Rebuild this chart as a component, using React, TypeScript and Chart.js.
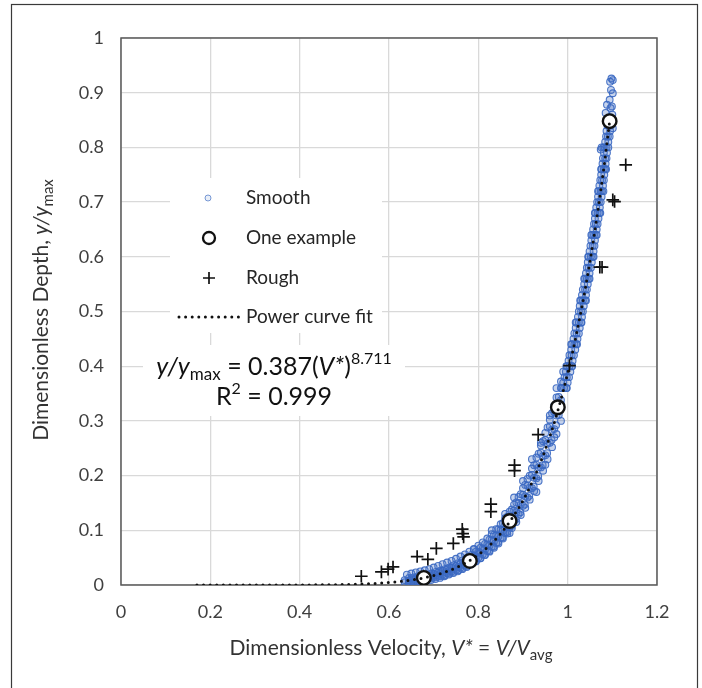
import React, { useEffect, useRef } from "react";
import { Chart, registerables } from "chart.js";
Chart.register(...registerables);

// ---------- data ----------
const xTickValues = [0, 0.2, 0.4, 0.6, 0.8, 1, 1.2];
const yTickValues = [0, 0.1, 0.2, 0.3, 0.4, 0.5, 0.6, 0.7, 0.8, 0.9, 1];

const legendLabels = ["Smooth", "One example", "Rough", "Power curve fit"];

const exampleV = [0.678, 0.781, 0.87, 0.978, 1.094];
const exampleY = [0.013, 0.044, 0.117, 0.325, 0.848];

const roughV = [0.538, 0.583, 0.598, 0.609, 0.663, 0.687, 0.706, 0.744, 0.764, 0.767, 0.765, 0.828, 0.828, 0.881, 0.881, 0.934, 1.004, 1.072, 1.077, 1.101, 1.105, 1.13];
const roughY = [0.016, 0.024, 0.029, 0.033, 0.052, 0.047, 0.067, 0.076, 0.102, 0.088, 0.094, 0.148, 0.134, 0.219, 0.209, 0.275, 0.401, 0.581, 0.581, 0.704, 0.701, 0.768];

const fitV = [0.17, 0.3, 0.4, 0.5, 0.55, 0.6, 0.65, 0.7, 0.75, 0.8, 0.85, 0.9, 0.925, 0.95, 0.975, 1.0, 1.02, 1.04, 1.06, 1.08, 1.094];
const fitY = [0.0, 0.0, 0.0001, 0.0009, 0.0021, 0.0045, 0.0091, 0.0173, 0.0316, 0.0554, 0.0939, 0.1546, 0.1963, 0.2476, 0.3104, 0.387, 0.4599, 0.5446, 0.6429, 0.7566, 0.848];

const smoothPoints: [number, number][] = [
  [0.635, 0.005], [0.635, 0.009],
  [0.645, 0.005], [0.645, 0.008], [0.645, 0.013],
  [0.655, 0.006], [0.655, 0.01], [0.655, 0.014],
  [0.665, 0.007], [0.665, 0.011], [0.665, 0.016],
  [0.675, 0.009], [0.675, 0.013], [0.675, 0.017],
  [0.685, 0.01], [0.685, 0.014], [0.685, 0.019],
  [0.695, 0.012], [0.695, 0.016], [0.695, 0.021],
  [0.705, 0.014], [0.705, 0.018], [0.705, 0.024],
  [0.715, 0.016], [0.715, 0.021], [0.715, 0.026],
  [0.725, 0.018], [0.725, 0.023], [0.725, 0.029],
  [0.735, 0.021], [0.735, 0.026], [0.735, 0.032],
  [0.745, 0.024], [0.745, 0.03], [0.745, 0.036],
  [0.755, 0.027], [0.755, 0.033], [0.755, 0.04],
  [0.765, 0.031], [0.765, 0.037], [0.765, 0.045],
  [0.775, 0.035], [0.775, 0.042], [0.775, 0.05],
  [0.785, 0.039], [0.785, 0.047], [0.785, 0.055],
  [0.795, 0.044], [0.795, 0.052], [0.795, 0.061],
  [0.805, 0.049], [0.805, 0.058], [0.805, 0.068],
  [0.815, 0.055], [0.815, 0.065], [0.815, 0.075],
  [0.825, 0.061], [0.825, 0.072], [0.825, 0.083],
  [0.835, 0.068], [0.835, 0.08], [0.835, 0.092],
  [0.845, 0.076], [0.845, 0.089], [0.845, 0.102],
  [0.855, 0.085], [0.855, 0.099], [0.855, 0.113],
  [0.865, 0.094], [0.865, 0.109], [0.865, 0.125],
  [0.875, 0.104], [0.875, 0.121], [0.875, 0.138],
  [0.885, 0.115], [0.885, 0.133], [0.885, 0.151],
  [0.895, 0.128], [0.895, 0.147], [0.895, 0.166],
  [0.905, 0.141], [0.905, 0.162], [0.905, 0.183],
  [0.915, 0.156], [0.915, 0.178], [0.915, 0.2],
  [0.925, 0.172], [0.925, 0.196], [0.925, 0.219],
  [0.935, 0.19], [0.935, 0.215], [0.935, 0.24],
  [0.945, 0.209], [0.945, 0.236], [0.945, 0.263],
  [0.955, 0.23], [0.955, 0.259], [0.955, 0.288],
  [0.965, 0.252], [0.965, 0.284], [0.965, 0.314],
  [0.975, 0.276], [0.975, 0.31], [0.975, 0.343],
  [0.985, 0.3], [0.985, 0.338], [0.985, 0.372],
  [0.65, 0.007], [0.65, 0.012], [0.66, 0.008], [0.66, 0.013],
  [0.67, 0.01], [0.67, 0.015], [0.68, 0.011], [0.68, 0.016],
  [0.69, 0.013], [0.69, 0.018], [0.7, 0.015], [0.7, 0.02],
  [0.71, 0.017], [0.71, 0.023], [0.72, 0.019], [0.72, 0.026],
  [0.73, 0.022], [0.73, 0.029], [0.74, 0.025], [0.74, 0.032],
  [0.75, 0.028], [0.75, 0.035], [0.76, 0.032], [0.76, 0.04],
  [0.77, 0.036], [0.77, 0.044], [0.78, 0.04], [0.78, 0.049],
  [0.79, 0.045], [0.79, 0.054], [0.8, 0.05], [0.8, 0.06],
  [0.81, 0.056], [0.81, 0.067], [0.82, 0.062], [0.82, 0.074],
  [0.83, 0.07], [0.83, 0.083], [0.84, 0.077], [0.84, 0.091],
  [0.85, 0.086], [0.85, 0.101], [0.86, 0.095], [0.86, 0.111],
  [0.87, 0.106], [0.87, 0.123], [0.88, 0.117], [0.88, 0.136],
  [0.89, 0.13], [0.89, 0.15], [0.9, 0.145], [0.9, 0.165],
  [0.91, 0.16], [0.91, 0.182], [0.92, 0.177], [0.92, 0.201],
  [0.93, 0.195], [0.93, 0.22], [0.94, 0.215], [0.94, 0.242],
  [0.95, 0.237], [0.95, 0.265], [0.96, 0.26], [0.96, 0.29],
  [0.97, 0.285], [0.97, 0.316], [0.98, 0.311], [0.98, 0.344],
  [0.64, 0.019], [0.644, 0.003], [0.65, 0.021], [0.654, 0.004],
  [0.66, 0.023], [0.664, 0.005], [0.67, 0.025], [0.674, 0.006],
  [0.68, 0.027], [0.684, 0.008], [0.69, 0.029], [0.694, 0.009],
  [0.7, 0.032], [0.704, 0.011], [0.71, 0.035], [0.714, 0.013],
  [0.72, 0.038], [0.724, 0.016], [0.73, 0.041], [0.734, 0.019],
  [0.74, 0.044], [0.744, 0.022], [0.75, 0.048], [0.754, 0.025],
  [0.76, 0.052], [0.764, 0.029], [0.77, 0.056], [0.774, 0.033],
  [0.78, 0.061], [0.784, 0.038], [0.79, 0.066], [0.794, 0.043],
  [0.8, 0.072], [0.804, 0.049], [0.81, 0.078], [0.814, 0.055],
  [0.82, 0.085], [0.824, 0.062], [0.83, 0.093], [0.834, 0.07],
  [0.84, 0.102], [0.844, 0.078], [0.85, 0.111], [0.854, 0.087],
  [0.86, 0.122], [0.864, 0.097], [0.87, 0.134], [0.874, 0.108],
  [0.88, 0.147], [0.884, 0.12], [0.89, 0.161], [0.894, 0.133],
  [0.9, 0.177], [0.904, 0.147], [0.91, 0.194], [0.914, 0.163],
  [0.92, 0.213], [0.924, 0.18], [0.93, 0.233], [0.934, 0.199],
  [0.94, 0.255], [0.944, 0.219], [0.95, 0.278], [0.954, 0.241],
  [0.96, 0.302], [0.964, 0.265], [0.97, 0.328], [0.974, 0.292],
  [0.986, 0.36], [0.992, 0.36], [0.997, 0.36],
  [0.993, 0.38], [0.998, 0.38], [1.003, 0.38],
  [0.999, 0.4], [1.004, 0.4], [1.009, 0.4],
  [1.004, 0.42], [1.009, 0.42], [1.014, 0.42],
  [1.01, 0.44], [1.015, 0.44], [1.019, 0.44],
  [1.015, 0.46], [1.02, 0.46], [1.025, 0.46],
  [1.02, 0.48], [1.025, 0.48], [1.03, 0.48],
  [1.025, 0.5], [1.03, 0.5], [1.034, 0.5],
  [1.03, 0.52], [1.034, 0.52], [1.039, 0.52],
  [1.034, 0.54], [1.039, 0.54], [1.043, 0.54],
  [1.039, 0.56], [1.043, 0.56], [1.047, 0.56],
  [1.043, 0.58], [1.047, 0.58], [1.052, 0.58],
  [1.047, 0.6], [1.052, 0.6], [1.056, 0.6],
  [1.051, 0.62], [1.056, 0.62], [1.06, 0.62],
  [1.055, 0.64], [1.059, 0.64], [1.063, 0.64],
  [1.059, 0.66], [1.063, 0.66], [1.067, 0.66],
  [1.062, 0.68], [1.067, 0.68], [1.071, 0.68],
  [1.066, 0.7], [1.07, 0.7], [1.074, 0.7],
  [1.07, 0.72], [1.074, 0.72], [1.077, 0.72],
  [1.073, 0.74], [1.077, 0.74], [1.081, 0.74],
  [1.076, 0.76], [1.081, 0.76], [1.084, 0.76],
  [1.079, 0.78], [1.084, 0.78], [1.087, 0.78],
  [1.076, 0.8], [1.083, 0.8], [1.087, 0.8],
  [1.086, 0.82], [1.09, 0.82], [1.094, 0.82],
  [1.089, 0.84], [1.093, 0.84], [1.097, 0.84],
  [0.99, 0.37], [1.0, 0.37], [0.996, 0.39], [1.006, 0.39],
  [1.002, 0.41], [1.011, 0.41], [1.008, 0.43], [1.017, 0.43],
  [1.013, 0.45], [1.022, 0.45], [1.018, 0.47], [1.027, 0.47],
  [1.023, 0.49], [1.032, 0.49], [1.027, 0.51], [1.036, 0.51],
  [1.032, 0.53], [1.041, 0.53], [1.037, 0.55], [1.045, 0.55],
  [1.041, 0.57], [1.049, 0.57], [1.045, 0.59], [1.054, 0.59],
  [1.049, 0.61], [1.058, 0.61], [1.053, 0.63], [1.061, 0.63],
  [1.057, 0.65], [1.065, 0.65], [1.061, 0.67], [1.069, 0.67],
  [1.064, 0.69], [1.072, 0.69], [1.068, 0.71], [1.076, 0.71],
  [1.071, 0.73], [1.079, 0.73], [1.075, 0.75], [1.082, 0.75],
  [1.078, 0.77], [1.085, 0.77], [1.081, 0.79], [1.088, 0.79],
  [1.084, 0.81], [1.091, 0.81], [1.087, 0.83], [1.095, 0.83],
  [0.985, 0.36], [0.998, 0.36], [0.997, 0.4], [1.01, 0.4],
  [1.008, 0.44], [1.021, 0.44], [1.018, 0.48], [1.031, 0.48],
  [1.028, 0.52], [1.041, 0.52], [1.037, 0.56], [1.049, 0.56],
  [1.046, 0.6], [1.058, 0.6], [1.053, 0.64], [1.065, 0.64],
  [1.061, 0.68], [1.073, 0.68], [1.068, 0.72], [1.08, 0.72],
  [1.075, 0.76], [1.086, 0.76], [1.08, 0.8], [1.091, 0.8],
  [1.094, 0.855], [1.1, 0.86], [1.085, 0.863], [1.088, 0.878],
  [1.096, 0.872], [1.094, 0.887], [1.101, 0.899], [1.097, 0.905],
  [1.101, 0.923], [1.098, 0.926], [1.095, 0.92], [1.101, 0.835],
  [1.074, 0.796], [1.099, 0.875],
  [0.9, 0.19], [0.92, 0.23], [0.88, 0.16], [0.86, 0.13], [0.94, 0.26],
  [0.96, 0.31], [0.83, 0.1], [0.79, 0.065], [0.93, 0.17], [0.95, 0.22],
  [0.97, 0.27], [0.87, 0.095], [0.975, 0.36], [0.99, 0.39], [0.985, 0.33],
];

// ---------- drawing helpers ----------
const FONT = "Lato, 'Noto Sans', sans-serif";
type Seg = { t: string; size: number; italic?: boolean; shift?: number };

function segFont(s: Seg) {
  return `${s.italic ? "italic " : ""}${s.size}px ${FONT}`;
}

function drawRich(ctx: CanvasRenderingContext2D, segs: Seg[], cx: number, cy: number, color: string) {
  ctx.save();
  ctx.fillStyle = color;
  ctx.textBaseline = "alphabetic";
  ctx.textAlign = "left";
  let total = 0;
  for (const s of segs) {
    ctx.font = segFont(s);
    total += ctx.measureText(s.t).width;
  }
  let x = cx - total / 2;
  for (const s of segs) {
    ctx.font = segFont(s);
    ctx.fillText(s.t, x, cy + (s.shift || 0));
    x += ctx.measureText(s.t).width;
  }
  ctx.restore();
}

const fmt = (v: number) => String(Math.round(v * 10) / 10);

const SMOOTH_STROKE = "rgba(58,104,194,0.9)";
const SMOOTH_FILL = "rgba(68,114,196,0.3)";

const overlayPlugin = {
  id: "overlay",
  beforeDatasetsDraw(chart: any) {
    const ctx: CanvasRenderingContext2D = chart.ctx;
    const a = chart.chartArea;
    ctx.save();
    ctx.strokeStyle = "#595959";
    ctx.lineWidth = 1.5;
    ctx.strokeRect(a.left, a.top, a.right - a.left, a.bottom - a.top);
    ctx.fillStyle = "#ffffff";
    ctx.fillRect(170, 178, 212, 155);
    ctx.fillRect(143, 345, 262, 71);
    ctx.restore();
  },
  afterDraw(chart: any) {
    const ctx: CanvasRenderingContext2D = chart.ctx;
    ctx.save();
    ctx.strokeStyle = "#3a3a3a";
    ctx.lineWidth = 1.2;
    ctx.strokeRect(11.5, 4.5, 686, 720);

    const lx = 209;
    const rows = [198, 238, 278, 317];
    ctx.strokeStyle = "rgba(68,114,196,0.7)";
    ctx.fillStyle = "rgba(68,114,196,0.12)";
    ctx.lineWidth = 1;
    ctx.beginPath();
    ctx.arc(lx - 1, rows[0], 3, 0, Math.PI * 2);
    ctx.fill();
    ctx.stroke();
    ctx.strokeStyle = "#111";
    ctx.lineWidth = 2.3;
    ctx.beginPath();
    ctx.arc(lx, rows[1], 6, 0, Math.PI * 2);
    ctx.stroke();
    ctx.lineWidth = 1.7;
    ctx.beginPath();
    ctx.moveTo(lx - 6, rows[2]);
    ctx.lineTo(lx + 6, rows[2]);
    ctx.moveTo(lx, rows[2] - 6);
    ctx.lineTo(lx, rows[2] + 6);
    ctx.stroke();
    ctx.lineWidth = 3;
    ctx.lineCap = "round";
    ctx.setLineDash([0, 6.6]);
    ctx.beginPath();
    ctx.moveTo(179, rows[3]);
    ctx.lineTo(239, rows[3]);
    ctx.stroke();
    ctx.setLineDash([]);
    ctx.fillStyle = "#262626";
    ctx.font = `19px ${FONT}`;
    ctx.textBaseline = "middle";
    ctx.textAlign = "left";
    legendLabels.forEach((l, i) => ctx.fillText(l, 246, rows[i]));
    ctx.restore();

    drawRich(
      ctx,
      [
        { t: "y/y", size: 25, italic: true },
        { t: "max", size: 17, shift: 5 },
        { t: " = 0.387(", size: 25 },
        { t: "V*", size: 25, italic: true },
        { t: ")", size: 25 },
        { t: "8.711", size: 16, shift: -11 },
      ],
      274, 375, "#111"
    );
    drawRich(
      ctx,
      [
        { t: "R", size: 25 },
        { t: "2", size: 16, shift: -11 },
        { t: " = 0.999", size: 25 },
      ],
      274, 405, "#111"
    );

    drawRich(
      ctx,
      [
        { t: "Dimensionless Velocity, ", size: 21 },
        { t: "V*", size: 21, italic: true },
        { t: " = ", size: 21 },
        { t: "V/V", size: 21, italic: true },
        { t: "avg", size: 15, shift: 5 },
      ],
      391, 655, "#333"
    );
    ctx.save();
    ctx.translate(48, 310);
    ctx.rotate(-Math.PI / 2);
    drawRich(
      ctx,
      [
        { t: "Dimensionless Depth, ", size: 21 },
        { t: "y/y", size: 21, italic: true },
        { t: "max", size: 15, shift: 5 },
      ],
      0, 0, "#333"
    );
    ctx.restore();
  },
};

export default function App() {
  const ref = useRef<HTMLCanvasElement>(null);
  useEffect(() => {
    if (!ref.current) return;
    const tickFont = { family: FONT, size: 18 };
    const chart = new Chart(ref.current, {
      type: "scatter",
      data: {
        datasets: [
          {
            label: legendLabels[3],
            data: fitV.map((v, i) => ({ x: v, y: fitY[i] })),
            showLine: true,
            pointRadius: 0,
            borderColor: "#111",
            borderWidth: 3,
            borderDash: [0, 6.6],
            borderCapStyle: "round",
            cubicInterpolationMode: "monotone",
            order: 1,
          } as any,
          {
            label: legendLabels[1],
            data: exampleV.map((v, i) => ({ x: v, y: exampleY[i] })),
            pointStyle: "circle",
            pointRadius: 6.8,
            borderWidth: 2.4,
            borderColor: "#111",
            backgroundColor: "#ffffff",
            order: 2,
          },
          {
            label: legendLabels[2],
            data: roughV.map((v, i) => ({ x: v, y: roughY[i] })),
            pointStyle: "cross",
            pointRadius: 6.3,
            borderWidth: 1.7,
            borderColor: "#111",
            order: 3,
          },
          {
            label: legendLabels[0],
            data: smoothPoints.map(([v, y]) => ({ x: v, y })),
            pointStyle: "circle",
            pointRadius: 3.4,
            borderWidth: 1.1,
            borderColor: SMOOTH_STROKE,
            backgroundColor: SMOOTH_FILL,
            order: 4,
          },
        ],
      },
      options: {
        animation: false,
        responsive: false,
        devicePixelRatio: 1,
        layout: { padding: { top: 38, right: 45, left: 0, bottom: 0 } },
        plugins: { legend: { display: false }, tooltip: { enabled: false } },
        scales: {
          x: {
            type: "linear",
            min: xTickValues[0],
            max: xTickValues[xTickValues.length - 1],
            afterBuildTicks: (s: any) => {
              s.ticks = xTickValues.map((v) => ({ value: v }));
            },
            ticks: { font: tickFont, color: "#404040", padding: 16, callback: (v: any) => fmt(Number(v)) },
            grid: { color: "#d9d9d9", lineWidth: 1.3, drawTicks: false },
            border: { display: false },
            afterFit: (s: any) => {
              s.height = 103;
            },
          },
          y: {
            type: "linear",
            min: yTickValues[0],
            max: yTickValues[yTickValues.length - 1],
            afterBuildTicks: (s: any) => {
              s.ticks = yTickValues.map((v) => ({ value: v }));
            },
            ticks: { font: tickFont, color: "#404040", padding: 17, callback: (v: any) => fmt(Number(v)) },
            grid: { color: "#d9d9d9", lineWidth: 1.3, drawTicks: false },
            border: { display: false },
            afterFit: (s: any) => {
              s.width = 121;
            },
          },
        },
      } as any,
      plugins: [overlayPlugin],
    });
    return () => chart.destroy();
  }, []);
  return (
    <div style={{ position: "absolute", left: 0, top: 0, width: 702, height: 688, background: "#fff" }}>
      <canvas ref={ref} width={702} height={688} style={{ display: "block" }} />
    </div>
  );
}
